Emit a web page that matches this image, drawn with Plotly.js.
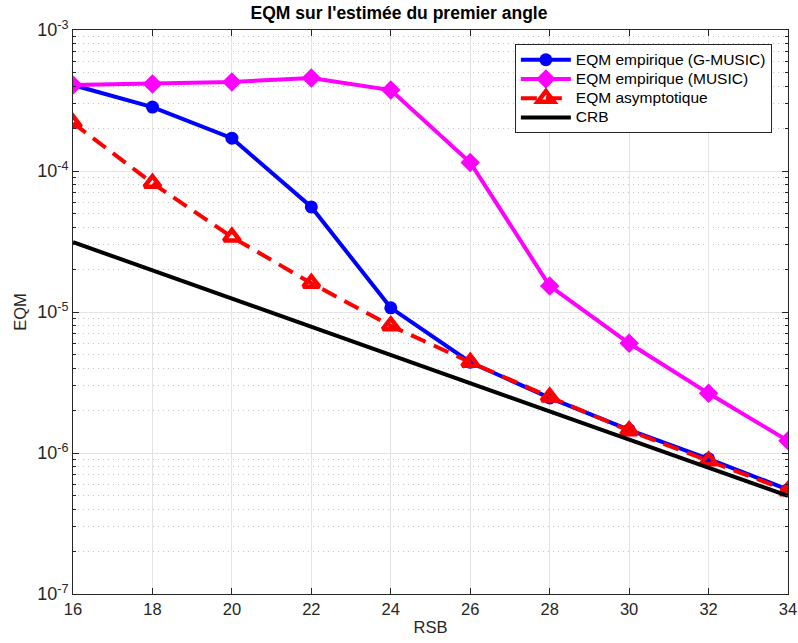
<!DOCTYPE html>
<html>
<head>
<meta charset="utf-8">
<script src="https://cdn.plot.ly/plotly-3.0.1.min.js"></script>
<style>html,body{margin:0;padding:0;background:#fff;}</style>
</head>
<body>
<div id="chart" style="width:798px;height:643px;"></div>
<script>
const rsb = [16, 18, 20, 22, 24, 26, 28, 30, 32, 34];
const eqmGMusic = [4.07e-4, 2.84e-4, 1.71e-4, 5.56e-5, 1.07e-5, 4.4e-6, 2.46e-6, 1.46e-6, 9.1e-7, 5.5e-7];
const eqmMusic = [4.07e-4, 4.14e-4, 4.28e-4, 4.57e-4, 3.75e-4, 1.15e-4, 1.53e-5, 6.0e-6, 2.65e-6, 1.22e-6];
const eqmAsym = [2.19e-4, 8.2e-5, 3.4e-5, 1.6e-5, 7.99e-6, 4.4e-6, 2.5e-6, 1.44e-6, 8.8e-7, 5.4e-7];
const crb = [3.13e-5, 1.975e-5, 1.246e-5, 7.86e-6, 4.96e-6, 3.13e-6, 1.975e-6, 1.246e-6, 7.86e-7, 4.96e-7];
const seriesNames = ['EQM empirique (G-MUSIC)', 'EQM empirique (MUSIC)', 'EQM asymptotique', 'CRB'];
const yTickVals = [1e-7, 1e-6, 1e-5, 1e-4, 1e-3];
const yTickText = ['10<sup>-7</sup>', '10<sup>-6</sup>', '10<sup>-5</sup>', '10<sup>-4</sup>', '10<sup>-3</sup>'];
const xTickVals = [16, 18, 20, 22, 24, 26, 28, 30, 32, 34];

const minorVals = [];
for (let e = -7; e < -3; e++) {
  for (let m = 2; m <= 9; m++) minorVals.push(m * Math.pow(10, e));
}
const FAM = 'Liberation Sans, Arial, sans-serif';
const lg = s => '<span style="font-size:15.5px">' + s + '</span>';

const traces = [
  {x: rsb, y: eqmGMusic, name: lg(seriesNames[0]), mode: 'lines+markers',
   line: {color: '#0000ff', width: 4}, marker: {symbol: 'circle', size: 13, color: '#0000ff'}},
  {x: rsb, y: eqmMusic, name: lg(seriesNames[1]), mode: 'lines+markers',
   line: {color: '#ff00ff', width: 4}, marker: {symbol: 'diamond', size: 15, color: '#ff00ff'}},
  {x: rsb, y: eqmAsym, name: lg(seriesNames[2]), mode: 'lines+markers',
   line: {color: '#ff0000', width: 4, dash: '16px,9px'},
   marker: {symbol: 'triangle-up-open', size: 14, color: '#ff0000', line: {width: 4.5, color: '#ff0000'}}},
  {x: rsb, y: crb, name: lg(seriesNames[3]), mode: 'lines',
   line: {color: '#000000', width: 4}}
];

const layout = {
  width: 798, height: 643,
  margin: {l: 73, r: 10, t: 30, b: 49},
  paper_bgcolor: '#ffffff', plot_bgcolor: '#ffffff',
  font: {family: FAM, color: '#262626', size: 16},
  title: {text: "<b>EQM sur l'estimée du premier angle</b>", x: 0.5, xanchor: 'center', y: 0.99, yanchor: 'top',
          font: {family: FAM, size: 17.5, color: '#000000'}},
  showlegend: true,
  legend: {x: 0.618, y: 0.975, xanchor: 'left', yanchor: 'top', bgcolor: '#ffffff',
           bordercolor: '#262626', borderwidth: 1, font: {family: FAM, size: 12.5, color: '#000000'},
           tracegroupgap: 0, itemwidth: 50},
  xaxis: {
    range: [16, 34], tickvals: xTickVals, ticks: 'inside', ticklen: 6, tickcolor: '#262626',
    showline: true, linecolor: '#262626', linewidth: 1, mirror: 'ticks',
    showgrid: true, gridcolor: '#e3e3e3', gridwidth: 1, zeroline: false,
    title: {text: 'RSB', font: {family: FAM, size: 16.5, color: '#262626'}, standoff: 4},
    tickfont: {family: FAM, size: 16.5, color: '#262626'}
  },
  yaxis: {
    type: 'log', range: [-7, -3], tickvals: yTickVals, ticktext: yTickText,
    ticks: 'inside', ticklen: 6, tickcolor: '#262626',
    showline: true, linecolor: '#262626', linewidth: 1, mirror: 'ticks',
    showgrid: true, gridcolor: '#e3e3e3', gridwidth: 1, zeroline: false,
    minor: {tickvals: minorVals, ticks: 'inside', ticklen: 3, tickcolor: '#262626',
            showgrid: true, gridcolor: '#c4c4c4', griddash: '1px,4px', gridwidth: 1},
    title: {text: 'EQM', font: {family: FAM, size: 16.5, color: '#262626'}, standoff: 6},
    tickfont: {family: FAM, size: 18, color: '#262626'}
  }
};

Plotly.newPlot('chart', traces, layout, {displayModeBar: false, staticPlot: true});
</script>
</body>
</html>
